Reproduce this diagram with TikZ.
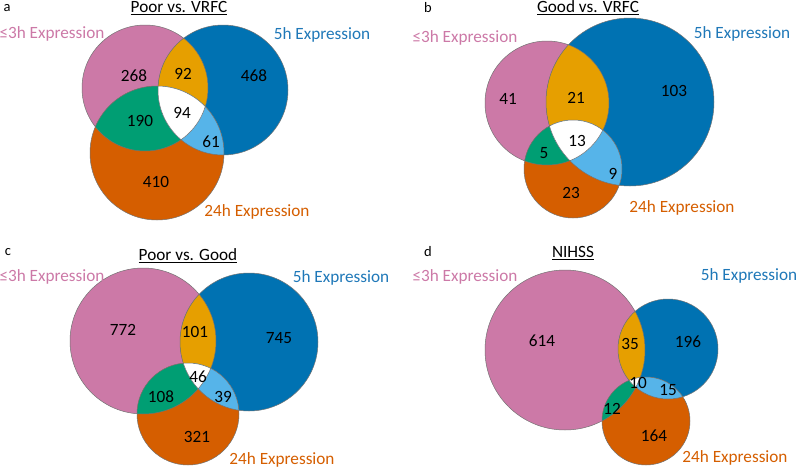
\documentclass[tikz,border=0pt]{standalone}
\usepackage{fontspec}
\setmainfont{Carlito}
\definecolor{pinkc}{HTML}{CC79A7}
\definecolor{bluec}{HTML}{0072B2}
\definecolor{orangec}{HTML}{D55E00}
\definecolor{yellowc}{HTML}{E69F00}
\definecolor{greenc}{HTML}{009E73}
\definecolor{skyc}{HTML}{56B4E9}
\definecolor{bluetxt}{HTML}{1F78B8}
% three-set Venn: pink centre, r, blue centre, r, orange centre, r
\newcommand{\vennpanel}[6]{%
  \fill[pinkc] #1 circle (#2pt);
  \fill[bluec] #3 circle (#4pt);
  \fill[orangec] #5 circle (#6pt);
  \begin{scope}
    \clip #1 circle (#2pt);
    \fill[yellowc] #3 circle (#4pt);
    \fill[greenc] #5 circle (#6pt);
  \end{scope}
  \begin{scope}
    \clip #3 circle (#4pt);
    \fill[skyc] #5 circle (#6pt);
    \clip #1 circle (#2pt);
    \fill[white] #5 circle (#6pt);
  \end{scope}
  \draw[vennline] #1 circle (#2pt) #3 circle (#4pt) #5 circle (#6pt);
}

\begin{document}
\begin{tikzpicture}[
    x=1pt, y=-1pt,
    every node/.style={inner sep=0pt, font=\fontsize{17.2}{19}\selectfont},
    vennline/.style={draw=black!55, line width=0.5pt},
    num/.style={text=black},
    setlab/.style={},
    tag/.style={font=\fontsize{14.5}{16}\selectfont},
    heading/.style={}
  ]
  \useasboundingbox (0,0) rectangle (796,469);

  % a: Poor vs. VRFC
  \vennpanel{(145,88)}{63}{(223,90)}{65}{(157,153)}{67}
  \node[tag] (atag) at (7,8) {a};
  \node[heading] (atitle) at (179,8) {\underline{Poor vs. VRFC}};
  \node[setlab, text=pinkc] (aearly) at (52,34) {≤3h Expression};
  \node[setlab, text=bluetxt] (amid) at (322,35) {5h Expression};
  \node[setlab, text=orangec] (alate) at (257,212) {24h Expression};
  \node[num] (a1) at (134,76) {268};
  \node[num] (a2) at (183,74) {92};
  \node[num] (a3) at (254,76) {468};
  \node[num] (a4) at (182,113) {94};
  \node[num] (a5) at (140,121) {190};
  \node[num] (a6) at (211,142) {61};
  \node[num] (a7) at (156,182) {410};

  % b: Good vs. VRFC
  \vennpanel{(547,103)}{62}{(630,102)}{84}{(573,169)}{49}
  \node[tag] (btag) at (428,8) {b};
  \node[heading] (btitle) at (588,8) {\underline{Good vs. VRFC}};
  \node[setlab, text=pinkc] (bearly) at (465,38) {≤3h Expression};
  \node[setlab, text=bluetxt] (bmid) at (742,34) {5h Expression};
  \node[setlab, text=orangec] (blate) at (682,208) {24h Expression};
  \node[num] (b1) at (508,99) {41};
  \node[num] (b2) at (576,98) {21};
  \node[num] (b3) at (674,91) {103};
  \node[num] (b4) at (577,141) {13};
  \node[num] (b5) at (544,153) {5};
  \node[num] (b6) at (613,174) {9};
  \node[num] (b7) at (571,193) {23};

  % c: Poor vs. Good
  \vennpanel{(143,341)}{73}{(249,342)}{69}{(188,414)}{51}
  \node[tag] (ctag) at (8,252) {c};
  \node[heading] (ctitle) at (188,256) {\underline{Poor vs. Good}};
  \node[setlab, text=pinkc] (cearly) at (52,277) {≤3h Expression};
  \node[setlab, text=bluetxt] (cmid) at (341,278) {5h Expression};
  \node[setlab, text=orangec] (clate) at (282,460) {24h Expression};
  \node[num] (c1) at (123,330) {772};
  \node[num] (c2) at (195,332) {101};
  \node[num] (c3) at (279,338) {745};
  \node[num] (c4) at (198,377) {46};
  \node[num] (c5) at (161,397) {108};
  \node[num] (c6) at (223,397) {39};
  \node[num] (c7) at (197,437) {321};

  % d: NIHSS
  \vennpanel{(565,350)}{80}{(668,349)}{50}{(646,421)}{44}
  \node[tag] (dtag) at (428,252) {d};
  \node[heading] (dtitle) at (573,253) {\underline{NIHSS}};
  \node[setlab, text=pinkc] (dearly) at (465,277) {≤3h Expression};
  \node[setlab, text=bluetxt] (dmid) at (749,276) {5h Expression};
  \node[setlab, text=orangec] (dlate) at (735,458) {24h Expression};
  \node[num] (d1) at (542,341) {614};
  \node[num] (d2) at (630,344) {35};
  \node[num] (d3) at (688,342) {196};
  \node[num] (d4) at (638,383) {10};
  \node[num] (d5) at (668,390) {15};
  \node[num] (d6) at (612,409) {12};
  \node[num] (d7) at (654,436) {164};
\end{tikzpicture}
\end{document}
